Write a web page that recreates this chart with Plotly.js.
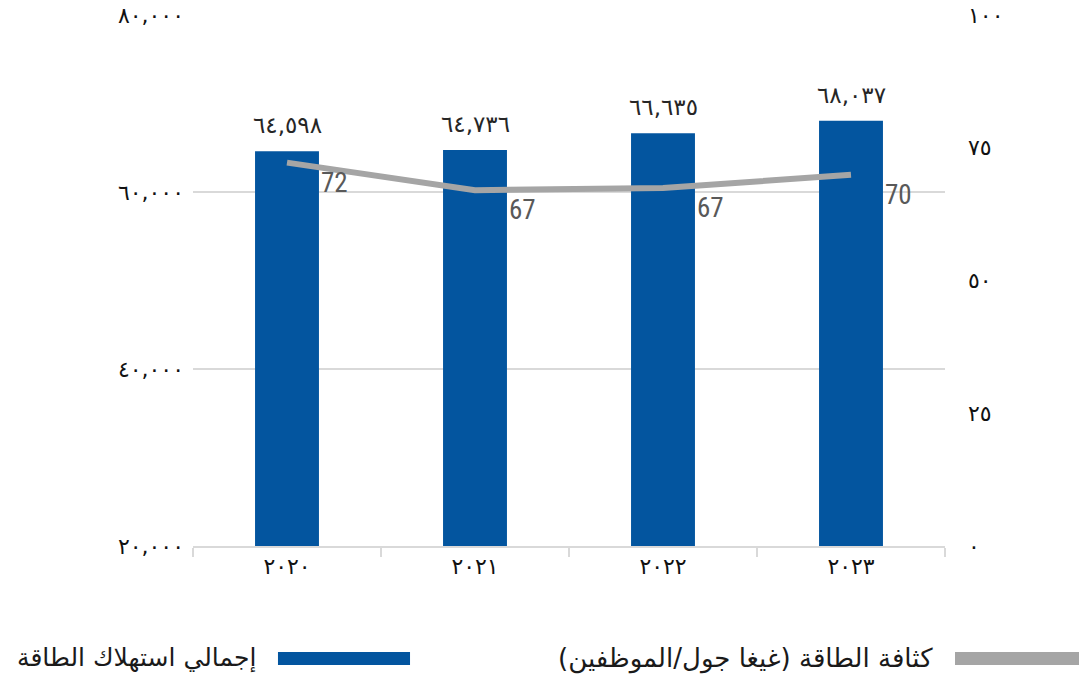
<!DOCTYPE html>
<html>
<head>
<meta charset="utf-8">
<script src="https://cdn.plot.ly/plotly-3.0.1.min.js"></script>
<style>
  html, body { margin: 0; padding: 0; background: #ffffff; }
  #chart { width: 1079px; height: 679px; }
</style>
</head>
<body>
<div id="chart"></div>
<script>
// ---- Data ----
const years = ['2020', '2021', '2022', '2023'];
const energyTotal = [64598, 64736, 66635, 68037];          // total energy consumption (left axis)
const energyIntensity = [72.2, 67.0, 67.4, 69.9];          // energy intensity GJ/employee (right axis)
const leftTicks = [20000, 40000, 60000, 80000];
const rightTicks = [0, 25, 50, 75, 100];
const seriesNames = ['إجمالي استهلاك الطاقة', 'كثافة الطاقة (غيغا جول/الموظفين)'];

// ---- Helpers ----
const AR_DIGITS = '٠١٢٣٤٥٦٧٨٩';
function toArabic(str) { return String(str).replace(/[0-9]/g, d => AR_DIGITS[+d]); }
function fmtThousands(n) { return String(Math.round(n)).replace(/\B(?=(\d{3})+(?!\d))/g, ','); }

const cats = years.map(toArabic);

const BLUE = '#03559F';
const GREY = '#A5A5A5';
const GRID = '#D9D9D9';
const ARFONT = 'DejaVu Sans, Noto Sans, sans-serif';
const NUMFONT = 'Roboto Condensed, Liberation Sans Narrow, Roboto, sans-serif';

const barTrace = {
  type: 'bar',
  x: cats,
  y: energyTotal,
  name: seriesNames[0],
  marker: { color: BLUE },
  width: 0.34,
  yaxis: 'y',
  hoverinfo: 'skip'
};

const lineTrace = {
  type: 'scatter',
  mode: 'lines',
  x: cats,
  y: energyIntensity,
  name: seriesNames[1],
  line: { color: GREY, width: 6 },
  yaxis: 'y2',
  hoverinfo: 'skip'
};

const annotations = [];
cats.forEach((c, i) => {
  annotations.push({
    x: i, y: energyTotal[i], xref: 'x', yref: 'y',
    text: toArabic(fmtThousands(energyTotal[i])),
    showarrow: false, yanchor: 'bottom', yshift: 11,
    font: { family: ARFONT, size: 23, color: '#262626' }
  });
  annotations.push({
    x: i, y: energyIntensity[i], xref: 'x', yref: 'y2',
    text: String(Math.round(energyIntensity[i])),
    showarrow: false, xanchor: 'left', yanchor: 'middle',
    xshift: 32, yshift: -20,
    font: { family: NUMFONT, size: 27, color: '#595959' }
  });
});

// custom RTL legend (text left of swatch)
annotations.push({
  x: 0.086, y: -0.211, xref: 'paper', yref: 'paper',
  text: '\u200F' + seriesNames[0] + '\u200F',
  showarrow: false, xanchor: 'right', yanchor: 'middle',
  font: { family: ARFONT, size: 25, color: '#1a1a1a' }
});
annotations.push({
  x: 0.987, y: -0.211, xref: 'paper', yref: 'paper',
  text: '\u200F' + seriesNames[1] + '\u200F',
  showarrow: false, xanchor: 'right', yanchor: 'middle',
  font: { family: ARFONT, size: 26, color: '#1a1a1a' }
});

const shapes = [
  { type: 'rect', xref: 'paper', yref: 'paper', x0: 0.113, x1: 0.2886, y0: -0.1996, y1: -0.2241,
    fillcolor: BLUE, line: { width: 0 } },
  { type: 'rect', xref: 'paper', yref: 'paper', x0: 1.0133, x1: 1.18, y0: -0.1996, y1: -0.2241,
    fillcolor: GREY, line: { width: 0 } }
];

const layout = {
  width: 1079,
  height: 679,
  margin: { l: 193, r: 134, t: 15, b: 133 },
  paper_bgcolor: '#ffffff',
  plot_bgcolor: '#ffffff',
  showlegend: false,
  font: { family: ARFONT, size: 16, color: '#1a1a1a' },
  xaxis: {
    type: 'category',
    range: [-0.5, 3.5],
    tickson: 'boundaries',
    ticks: 'outside',
    ticklen: 9,
    tickwidth: 2,
    tickcolor: GRID,
    showline: true,
    linecolor: GRID,
    linewidth: 2,
    showgrid: false,
    tickfont: { family: ARFONT, size: 22, color: '#111111' }
  },
  yaxis: {
    range: [20000, 80000],
    tickvals: leftTicks,
    ticktext: leftTicks.map(v => toArabic(fmtThousands(v))),
    showgrid: true,
    gridcolor: GRID,
    gridwidth: 1.5,
    zeroline: false,
    showline: false,
    ticks: '',
    ticklabelstandoff: 8,
    tickfont: { family: ARFONT, size: 22, color: '#111111' }
  },
  yaxis2: {
    overlaying: 'y',
    side: 'right',
    range: [0, 100],
    tickvals: rightTicks,
    ticktext: rightTicks.map(v => toArabic(v)),
    showgrid: false,
    zeroline: false,
    showline: false,
    ticks: '',
    ticklabelstandoff: 22,
    tickfont: { family: ARFONT, size: 22, color: '#111111' }
  },
  annotations: annotations,
  shapes: shapes
};

Plotly.newPlot('chart', [barTrace, lineTrace], layout, { displayModeBar: false, staticPlot: true });
</script>
</body>
</html>
